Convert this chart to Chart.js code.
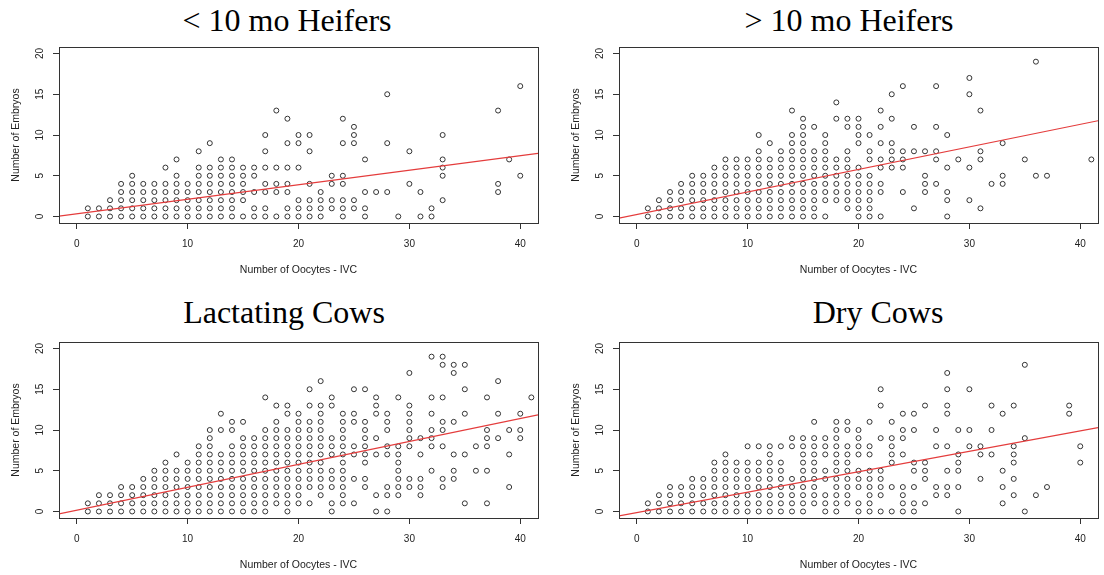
<!DOCTYPE html>
<html>
<head>
<meta charset="utf-8">
<script src="https://cdn.jsdelivr.net/npm/chart.js@4.4.1/dist/chart.umd.min.js"></script>
<style>
  html, body { margin: 0; padding: 0; background: #fff; width: 1104px; height: 575px; overflow: hidden; position: relative; }
  canvas { position: absolute; }
  .ttl { position: absolute; font-family: 'Liberation Serif', 'Times New Roman', serif; font-size: 32px; line-height: 32px; color: #000; white-space: nowrap; transform: translateX(-50%); }
</style>
</head>
<body>
<div class="ttl" style="left:287px; top:4px">&lt; 10 mo Heifers</div>
<div class="ttl" style="left:849px; top:4px">&gt; 10 mo Heifers</div>
<div class="ttl" style="left:284px; top:296px">Lactating Cows</div>
<div class="ttl" style="left:878px; top:296px">Dry Cows</div>
<canvas id="young" width="560" height="287" style="left:0px; top:0px"></canvas>
<canvas id="old" width="560" height="287" style="left:560px; top:0px"></canvas>
<canvas id="lact" width="560" height="287" style="left:0px; top:295px"></canvas>
<canvas id="dry" width="560" height="287" style="left:560px; top:295px"></canvas>
<script>
  // axis ticks
  const xTicks = [0, 10, 20, 30, 40];
  const yTicks = [0, 5, 10, 15, 20];

  // each entry: [oocytes, [embryo counts observed at that oocyte count]]
  const youngHeifers = [
    [1, [0, 1]], [2, [0, 1]], [3, [0, 1, 2]], [4, [0, 1, 2, 3, 4]], [5, [0, 1, 2, 3, 4, 5]],
    [6, [0, 1, 2, 3, 4]], [7, [0, 1, 2, 3, 4]], [8, [0, 1, 2, 3, 4, 6]], [9, [0, 1, 2, 3, 4, 5, 7]],
    [10, [0, 1, 2, 3, 4]], [11, [0, 1, 2, 3, 4, 5, 6, 8]], [12, [0, 1, 2, 3, 4, 5, 6, 9]],
    [13, [0, 1, 2, 3, 4, 5, 6, 7]], [14, [0, 1, 2, 3, 4, 5, 6, 7]], [15, [0, 2, 3, 4, 5, 6]],
    [16, [0, 1, 3, 5, 6]], [17, [0, 1, 3, 4, 6, 8, 10]], [18, [0, 3, 4, 6, 13]], [19, [0, 1, 3, 4, 6, 9, 12]],
    [20, [0, 1, 2, 6, 9, 10]], [21, [0, 1, 2, 4, 8, 10]], [22, [0, 1, 2, 3]], [23, [1, 2, 4, 5]],
    [24, [0, 1, 2, 4, 5, 9, 12]], [25, [1, 2, 9, 10, 11]], [26, [0, 1, 3, 7]], [27, [3]], [28, [3, 9, 15]],
    [29, [0]], [30, [4, 8]], [31, [0, 3]], [32, [0, 1]], [33, [2, 5, 6, 7, 10]], [38, [3, 4, 13]], [39, [7]], [40, [5, 16]]
  ];
  const oldHeifers = [
    [1, [0, 1]], [2, [0, 1, 2]], [3, [0, 1, 2, 3]], [4, [0, 1, 2, 3, 4]], [5, [0, 1, 2, 3, 4, 5]],
    [6, [0, 1, 2, 3, 4, 5]], [7, [0, 1, 2, 3, 4, 5, 6]], [8, [0, 1, 2, 3, 4, 5, 6, 7]], [9, [0, 1, 2, 3, 4, 5, 6, 7]],
    [10, [0, 1, 2, 3, 4, 5, 6, 7]], [11, [0, 1, 2, 3, 4, 5, 6, 7, 8, 10]], [12, [0, 1, 2, 3, 4, 5, 6, 7, 9]],
    [13, [0, 1, 2, 3, 4, 5, 6, 7, 8]], [14, [0, 1, 2, 3, 4, 5, 6, 7, 8, 9, 10, 13]],
    [15, [0, 1, 2, 3, 4, 5, 6, 7, 8, 9, 10, 11, 12]], [16, [0, 1, 2, 3, 4, 5, 6, 7, 8, 11]],
    [17, [0, 2, 3, 4, 5, 6, 7, 8, 9, 10]], [18, [2, 3, 4, 5, 6, 7, 12, 14]], [19, [1, 2, 3, 4, 5, 6, 7, 8, 11, 12]],
    [20, [0, 1, 2, 3, 4, 5, 6, 9, 10, 11, 12]], [21, [0, 1, 2, 3, 4, 5, 7, 8, 10]], [22, [0, 3, 4, 6, 7, 9, 11, 13]],
    [23, [6, 7, 8, 9, 12, 15]], [24, [3, 6, 7, 8, 16]], [25, [1, 8, 11]], [26, [3, 4, 5, 8]], [27, [4, 7, 8, 11, 16]],
    [28, [0, 2, 3, 6, 10]], [29, [7]], [30, [2, 6, 15, 17]], [31, [1, 7, 8, 13]], [32, [4]], [33, [4, 5, 9]],
    [35, [7]], [36, [5, 19]], [37, [5]], [41, [7]]
  ];
  const lactatingCows = [
    [1, [0, 1]], [2, [0, 1, 2]], [3, [0, 1, 2]], [4, [0, 1, 2, 3]], [5, [0, 1, 2, 3]], [6, [0, 1, 2, 3, 4]],
    [7, [0, 1, 2, 3, 4, 5]], [8, [0, 1, 2, 3, 4, 5, 6]], [9, [0, 1, 2, 3, 4, 5, 7]], [10, [0, 1, 2, 3, 4, 5, 6]],
    [11, [0, 1, 2, 3, 4, 5, 6, 7, 8]], [12, [0, 1, 2, 3, 4, 5, 6, 7, 8, 9, 10]], [13, [0, 1, 2, 3, 4, 5, 6, 7, 10, 12]],
    [14, [0, 1, 2, 3, 4, 5, 6, 7, 8, 10, 11]], [15, [0, 1, 2, 3, 4, 5, 6, 7, 8, 9, 11]], [16, [0, 1, 2, 3, 4, 5, 6, 7, 8, 9]],
    [17, [0, 1, 2, 3, 4, 5, 6, 7, 8, 9, 10, 14]], [18, [1, 2, 3, 4, 5, 6, 7, 8, 9, 10, 11, 13]],
    [19, [0, 1, 2, 3, 4, 5, 6, 7, 8, 9, 10, 12, 13]], [20, [1, 2, 3, 4, 5, 6, 7, 8, 9, 10, 11, 12]],
    [21, [1, 3, 4, 5, 6, 7, 8, 9, 10, 11, 13, 15]], [22, [2, 3, 4, 5, 6, 7, 8, 9, 10, 11, 12, 13, 16]],
    [23, [0, 1, 3, 4, 5, 7, 8, 9, 13, 14]], [24, [1, 2, 3, 4, 5, 6, 7, 8, 9, 10, 11, 12]], [25, [1, 4, 7, 8, 11, 12, 15]],
    [26, [3, 4, 6, 7, 8, 9, 10, 11, 15]], [27, [0, 2, 7, 9, 12, 13, 14]], [28, [0, 2, 3, 7, 8, 10, 11, 12]],
    [29, [2, 3, 4, 5, 6, 7, 8, 14]], [30, [3, 4, 8, 9, 10, 11, 12, 13, 17]], [31, [2, 3, 4, 7, 9]],
    [32, [5, 8, 9, 10, 12, 14, 19]], [33, [3, 4, 8, 10, 11, 14, 18, 19]], [34, [4, 5, 7, 11, 17, 18]],
    [35, [1, 7, 12, 15, 18]], [36, [5, 8]], [37, [1, 5, 8, 9, 10, 14]], [38, [9, 12, 16]], [39, [3, 7, 10]],
    [40, [9, 10, 12]], [41, [14]]
  ];
  const dryCows = [
    [1, [0, 1]], [2, [0, 1, 2]], [3, [0, 1, 2, 3]], [4, [0, 1, 2, 3]], [5, [0, 1, 2, 3, 4]], [6, [0, 1, 2, 3, 4]],
    [7, [0, 1, 2, 3, 4, 5, 6]], [8, [0, 1, 2, 3, 4, 5, 6, 7]], [9, [0, 1, 2, 3, 4, 5, 6]], [10, [0, 1, 2, 3, 4, 5, 6, 8]],
    [11, [0, 1, 2, 3, 4, 5, 6, 8]], [12, [0, 1, 2, 3, 4, 5, 6, 7, 8]], [13, [0, 1, 2, 3, 4, 5, 6, 8]],
    [14, [0, 1, 2, 3, 4, 8, 9]], [15, [0, 1, 2, 3, 4, 5, 6, 7, 8, 9]], [16, [1, 2, 3, 4, 5, 6, 7, 8, 9, 11]],
    [17, [0, 1, 2, 4, 5, 7, 8, 9]], [18, [0, 1, 2, 3, 4, 5, 6, 7, 8, 9, 10, 11]], [19, [1, 2, 3, 4, 5, 6, 7, 8, 10, 11]],
    [20, [0, 1, 3, 4, 5, 7, 8, 9, 10]], [21, [0, 1, 2, 3, 4, 5, 7, 8, 11]], [22, [0, 2, 3, 4, 5, 9, 13, 15]],
    [23, [0, 3, 6, 7, 8, 9, 11]], [24, [0, 1, 2, 3, 7, 9, 10, 12]], [25, [0, 1, 3, 5, 6, 10, 12]], [26, [1, 4, 5, 6, 13]],
    [27, [2, 3, 8, 10]], [28, [2, 3, 5, 8, 12, 13, 15, 17]], [29, [0, 3, 5, 6, 7, 10]], [30, [8, 10, 15]],
    [31, [4, 7, 8]], [32, [7, 10, 13]], [33, [1, 3, 5, 12]], [34, [2, 4, 6, 7, 8, 13]], [35, [0, 9, 18]],
    [36, [2]], [37, [3]], [39, [12, 13]], [40, [6, 8]]
  ];

  // fitted regression line, read at the left and right plot edges
  const fitX = [-1.6, 41.6];
  const youngFit = [0.05, 7.75];
  const oldFit = [-0.2, 11.75];
  const lactFit = [-0.3, 11.85];
  const dryFit = [-0.55, 10.3];

  function toPoints(cols) {
    return cols.flatMap(([x, ys]) => ys.map(y => ({ x: x, y: y })));
  }

  const boxPlugin = {
    id: 'box',
    afterDraw(chart) {
      const { ctx, chartArea: a } = chart;
      ctx.save();
      ctx.strokeStyle = '#333';
      ctx.lineWidth = 1;
      ctx.strokeRect(Math.round(a.left) + 0.5, Math.round(a.top) + 0.5, Math.round(a.width), Math.round(a.height));
      ctx.restore();
    }
  };

  const sans = 'Liberation Sans, Arial, sans-serif';

  function makePanel(id, cols, fit) {
    return new Chart(document.getElementById(id), {
      type: 'scatter',
      data: {
        datasets: [{
          data: toPoints(cols),
          pointStyle: 'circle',
          pointRadius: 2.5,
          borderWidth: 1,
          borderColor: '#333',
          backgroundColor: 'rgba(0,0,0,0)',
          order: 2
        }, {
          type: 'line',
          data: fitX.map((x, i) => ({ x: x, y: fit[i] })),
          borderColor: 'rgb(228, 60, 60)',
          borderWidth: 1.2,
          pointRadius: 0,
          order: 1
        }]
      },
      options: {
        responsive: false,
        animation: false,
        layout: { padding: { left: 0, right: 22, top: 47, bottom: 0 } },
        plugins: { legend: { display: false }, tooltip: { enabled: false }, title: { display: false } },
        scales: {
          x: {
            type: 'linear',
            min: fitX[0],
            max: fitX[1],
            afterBuildTicks: s => { s.ticks = xTicks.map(v => ({ value: v })); },
            afterFit: s => { s.height = 64; },
            grid: { display: true, drawOnChartArea: false, drawTicks: true, tickLength: 6, color: '#333' },
            border: { display: false },
            ticks: { font: { family: sans, size: 10 }, color: '#222', padding: 9, maxRotation: 0 },
            title: { display: true, text: 'Number of Oocytes - IVC', font: { family: sans, size: 10.5 }, color: '#222', padding: { top: 11, bottom: 11 } }
          },
          y: {
            type: 'linear',
            min: -0.8,
            max: 20.8,
            afterBuildTicks: s => { s.ticks = yTicks.map(v => ({ value: v })); },
            afterFit: s => { s.width = 59; },
            grid: { display: true, drawOnChartArea: false, drawTicks: true, tickLength: 6, color: '#333' },
            border: { display: false },
            ticks: { font: { family: sans, size: 10 }, color: '#222', padding: 7, minRotation: 90, maxRotation: 90, crossAlign: 'center' },
            title: { display: true, text: 'Number of Embryos', font: { family: sans, size: 10.5 }, color: '#222', padding: { top: 10, bottom: 0 } }
          }
        }
      },
      plugins: [boxPlugin]
    });
  }

  makePanel('young', youngHeifers, youngFit);
  makePanel('old', oldHeifers, oldFit);
  makePanel('lact', lactatingCows, lactFit);
  makePanel('dry', dryCows, dryFit);
</script>
</body>
</html>
